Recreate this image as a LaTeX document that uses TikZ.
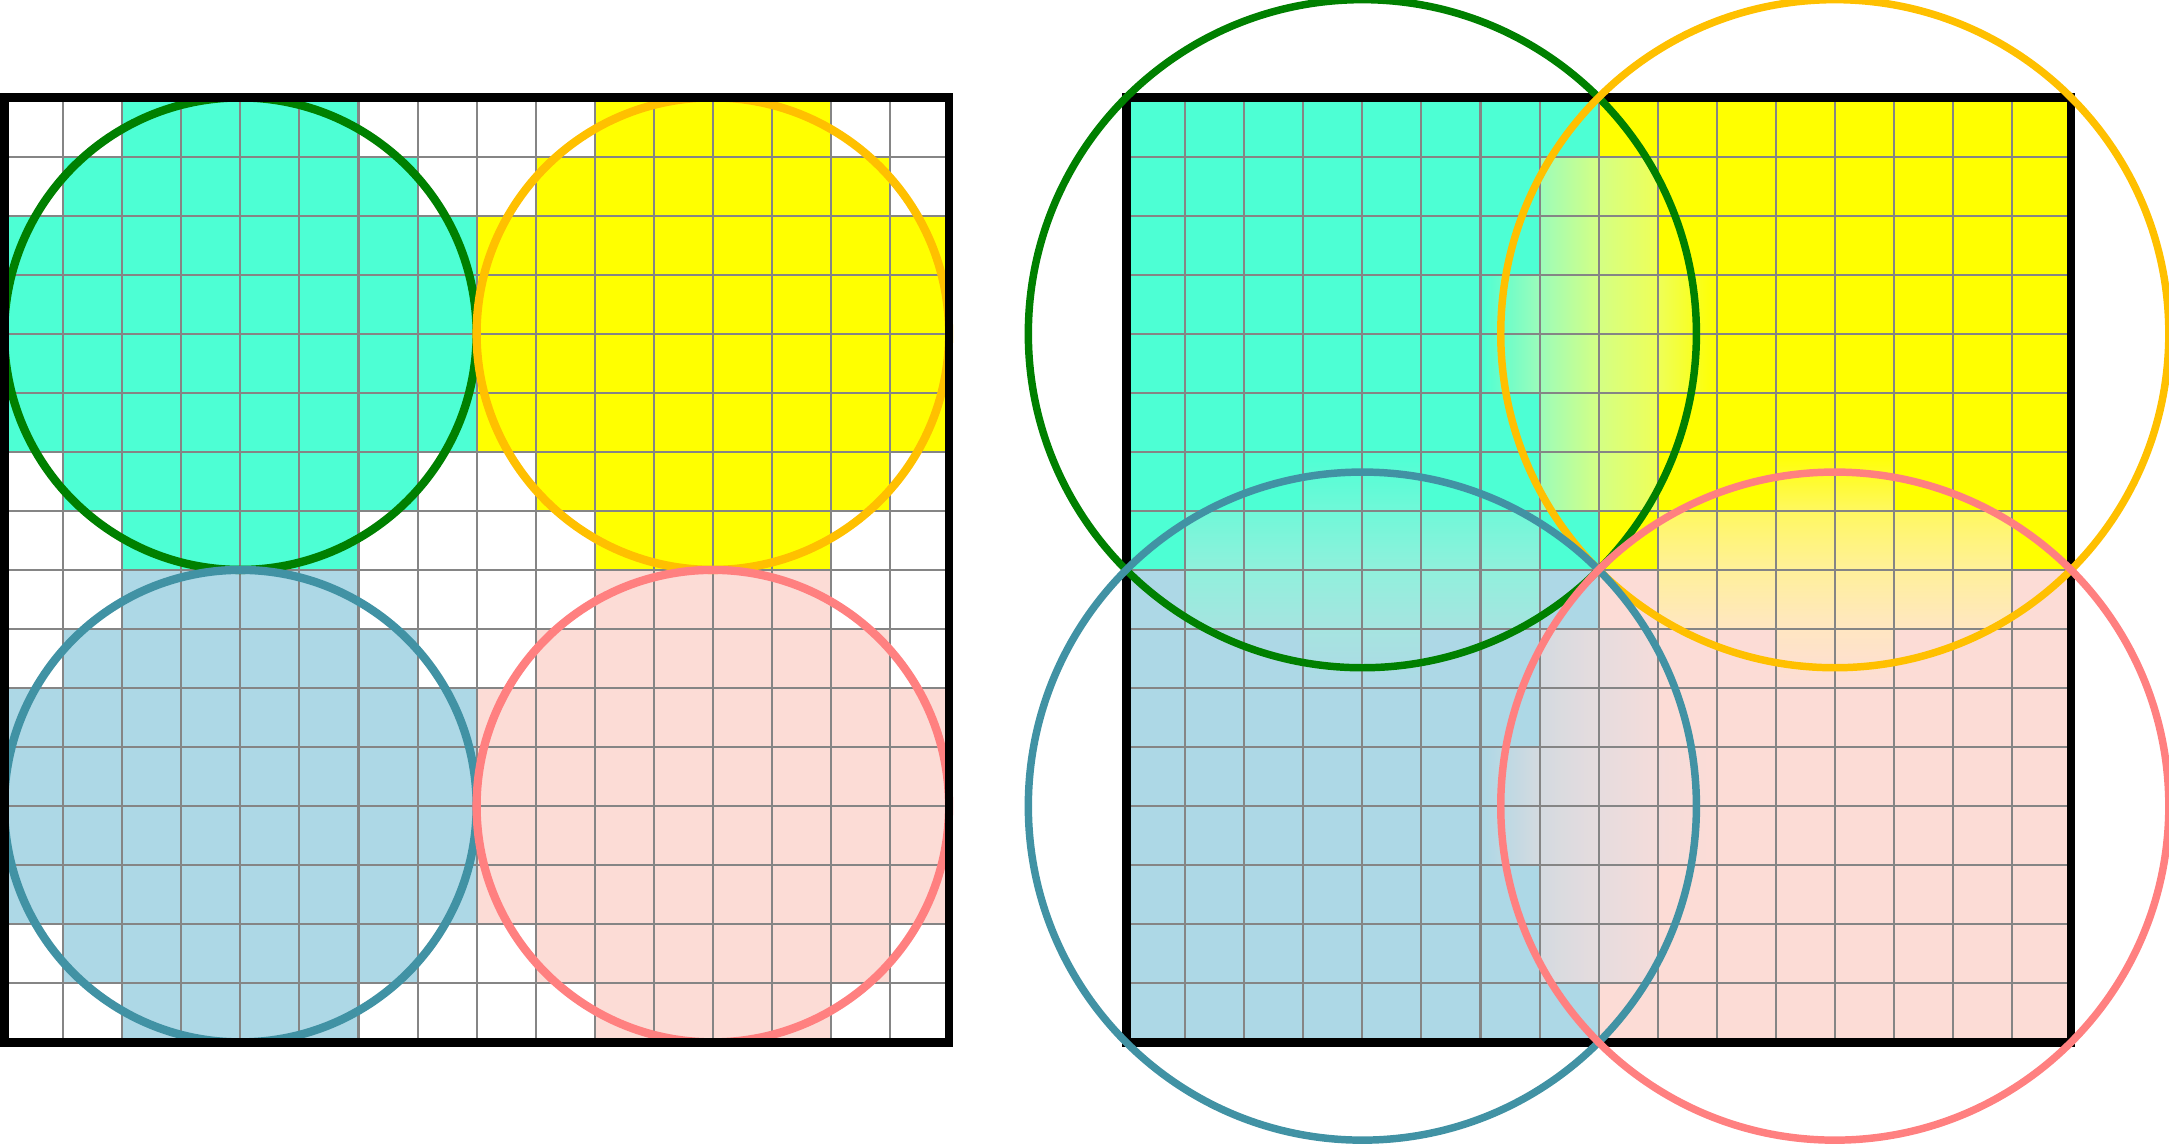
\documentclass[tikz,border=0pt]{standalone}
\usepackage{xcolor}
\usepackage{tikz}
\usetikzlibrary{calc}

% fills and rings
\definecolor{tealfill}{HTML}{4DFFD4}
\definecolor{yellowfill}{HTML}{FFFF00}
\definecolor{bluefill}{HTML}{ADD8E6}
\definecolor{pinkfill}{HTML}{FCDCD6}
\definecolor{greenring}{HTML}{008000}
\definecolor{amberring}{HTML}{FFC000}
\definecolor{bluering}{HTML}{4192A4}
\definecolor{pinkring}{HTML}{FF8080}
\definecolor{gridgray}{HTML}{858585}

% in-between colours of the overlaps
\definecolor{tyA}{HTML}{9CFCBA}
\definecolor{tyB}{HTML}{D4FF84}
\definecolor{tyC}{HTML}{EEFF58}
\definecolor{tbA}{HTML}{A6E4E0}
\definecolor{tbB}{HTML}{90F0DC}
\definecolor{tbC}{HTML}{70F8D8}
\definecolor{ypA}{HTML}{FFE6C2}
\definecolor{ypB}{HTML}{FFF09A}
\definecolor{ypC}{HTML}{FFF860}
\definecolor{bpA}{HTML}{D4DAE0}
\definecolor{bpB}{HTML}{E6DCDE}
\definecolor{bpC}{HTML}{F4DCDA}

\pgfdeclarehorizontalshading{tealyellow}{100bp}{color(0bp)=(tealfill); color(25bp)=(tealfill); color(37.5bp)=(tyA); color(50bp)=(tyB); color(62.5bp)=(tyC); color(75bp)=(yellowfill); color(100bp)=(yellowfill)}
\pgfdeclareverticalshading{blueteal}{100bp}{color(0bp)=(bluefill); color(25bp)=(bluefill); color(37.5bp)=(tbA); color(50bp)=(tbB); color(62.5bp)=(tbC); color(75bp)=(tealfill); color(100bp)=(tealfill)}
\pgfdeclareverticalshading{pinkyellow}{100bp}{color(0bp)=(pinkfill); color(25bp)=(pinkfill); color(37.5bp)=(ypA); color(50bp)=(ypB); color(62.5bp)=(ypC); color(75bp)=(yellowfill); color(100bp)=(yellowfill)}
\pgfdeclarehorizontalshading{bluepink}{100bp}{color(0bp)=(bluefill); color(25bp)=(bluefill); color(37.5bp)=(bpA); color(50bp)=(bpB); color(62.5bp)=(bpC); color(75bp)=(pinkfill); color(100bp)=(pinkfill)}

\begin{document}
\begin{tikzpicture}[
    gridline/.style={draw=gridgray, line width=1pt},
    frame/.style={draw=black, line width=4.2pt},
    ringsmall/.style={line width=4pt},
    ringbig/.style={line width=3.6pt}
]
\useasboundingbox (-0.071,-1.722) rectangle (36.66,17.651);

% Left panel: cells whose centre lies in a circle of radius 4
\foreach \cx/\cy/\col in {4/12/tealfill, 12/12/yellowfill, 4/4/bluefill, 12/4/pinkfill}
    \fill[\col, shift={(\cx,\cy)}] (-2,4) -| (2,3) -| (3,2) -| (4,-2) -| (3,-3) -| (2,-4)
        -| (-2,-3) -| (-3,-2) -| (-4,2) -| (-3,3) -| (-2,4) -- cycle;
\draw[gridline] (0,0) grid (16,16);
\foreach \cx/\cy/\col in {4/12/greenring, 12/12/amberring, 4/4/bluering, 12/4/pinkring}
    \draw[ringsmall, \col] (\cx,\cy) circle (4);
\draw[frame] (0,0) rectangle (16,16);

% Right panel: quadrants, blended where two circles overlap
\begin{scope}[xshift=19cm]
  \fill[tealfill] (0,8) rectangle (8,16);
  \fill[yellowfill] (8,8) rectangle (16,16);
  \fill[bluefill] (0,0) rectangle (8,8);
  \fill[pinkfill] (8,0) rectangle (16,8);

  % overlaps
  \shade[shading=tealyellow] (7,9) -- (9,9) -- (9,11) -- (10,11) -- (10,13) -- (9,13)
      -- (9,15) -- (7,15) -- (7,13) -- (6,13) -- (6,11) -- (7,11) -- cycle;
  \shade[shading=bluepink] (7,1) -- (9,1) -- (9,3) -- (10,3) -- (10,5) -- (9,5)
      -- (9,7) -- (7,7) -- (7,5) -- (6,5) -- (6,3) -- (7,3) -- cycle;
  \shade[shading=blueteal] (1,7) -- (3,7) -- (3,6) -- (5,6) -- (5,7) -- (7,7)
      -- (7,9) -- (5,9) -- (5,10) -- (3,10) -- (3,9) -- (1,9) -- cycle;
  \shade[shading=pinkyellow] (9,7) -- (11,7) -- (11,6) -- (13,6) -- (13,7) -- (15,7)
      -- (15,9) -- (13,9) -- (13,10) -- (11,10) -- (11,9) -- (9,9) -- cycle;

  \draw[gridline] (0,0) grid (16,16);
  \draw[frame] (0,0) rectangle (16,16);
  \foreach \cx/\cy/\col in {4/12/greenring, 12/12/amberring, 4/4/bluering, 12/4/pinkring}
      \draw[ringbig, \col] (\cx,\cy) circle ({4*sqrt(2)});
\end{scope}

\end{tikzpicture}
\end{document}
